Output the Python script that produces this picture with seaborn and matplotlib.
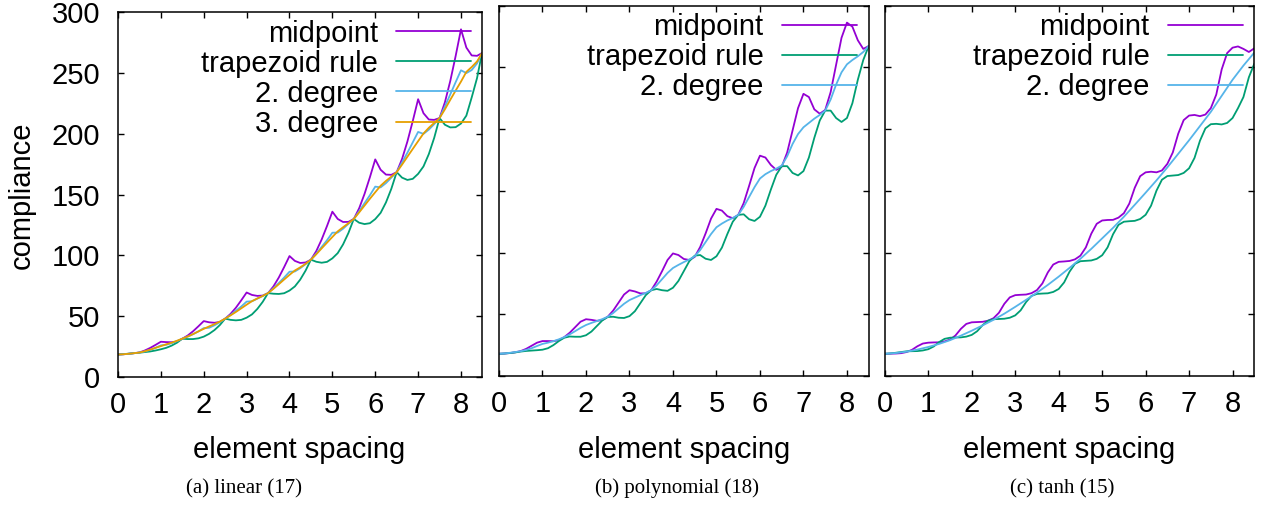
import matplotlib
matplotlib.use("Agg")
import matplotlib.pyplot as plt
import seaborn as sns

# ---------------- data ----------------
# sample positions (element spacing)
xa = [i * 0.125 for i in range(68)] + [8.49]
xb = [i * 0.125 for i in range(69)]
xc = [i * 0.125 for i in range(69)]
xc_coarse = [i * 0.25 for i in range(35)]

# (a) linear (17)
a_midpoint = [18.5, 18.7, 19.1, 19.6, 20.2, 21.8, 23.9, 26.4,
              29, 28.7, 28.6, 29.2, 31.5, 34.1, 37.6, 41.7,
              46, 45.0, 44.6, 45.3, 48, 51.9, 57.0, 63.1,
              69.5, 67.5, 66.7, 67, 69, 74.5, 81.8, 90.4,
              99.5, 95.5, 93.8, 94.2, 96.5, 103.6, 113.1, 124.2,
              136, 130, 127.5, 127.6, 130, 138.8, 150.6, 164.3,
              179, 170.5, 166.5, 166.3, 168.5, 179.3, 193.7, 210.5,
              228.5, 217, 211.8, 211.5, 213, 226, 243.5, 264,
              286, 271, 264.5, 264.2, 266.5]
a_trapezoid = [18.5, 18.8, 19.2, 19.6, 20, 20.5, 21, 21.8,
               22.8, 24, 25.8, 28.2, 31.5, 31.2, 31.2, 31.8,
               33.2, 35.5, 38.6, 42.7, 48, 47.0, 46.6, 47.0,
               48.8, 51.5, 56, 61.8, 69, 68.5, 68.3, 68.9,
               71.1, 74.5, 80.1, 87.5, 96.5, 94.8, 94.0, 94.7,
               97.6, 101.9, 109.1, 118.5, 130, 126.9, 125.8, 126.5,
               129.9, 135.0, 143.6, 154.8, 168.5, 164, 162.1, 163,
               167.1, 173.2, 183.4, 196.7, 213, 207.5, 205.3, 205.5,
               208.5, 215, 230, 246, 266.5]
a_deg2 = [18.5, 18.7, 19.1, 19.6, 20.1, 21, 22.3, 24,
          26, 26.5, 27.8, 29.5, 31.5, 33.2, 35.2, 37.5,
          40.2, 40.5, 42.5, 45, 48, 51, 54.5, 58,
          62, 62.3, 64.5, 66.6, 69, 73, 77.3, 81.8,
          86.6, 86.8, 89.5, 92.8, 96.5, 101.5, 107, 112.5,
          118.7, 118.8, 122, 126, 130, 136.3, 143, 149.5,
          156.6, 156, 159.5, 164, 168.5, 176.5, 184.5, 193,
          201.6, 200, 203.5, 208, 213, 222.5, 232.5, 242.5,
          252.3, 250, 252.5, 258, 266.5]
a_deg3 = [18.5, 18.7, 19.1, 19.6, 20.1, 21.2, 22.5, 24,
          25.4, 26.9, 28.2, 29.8, 31.5, 33.3, 35.3, 37.5,
          39.6, 41.6, 43.5, 45.6, 48, 50.7, 53.5, 56.5,
          59.5, 62.4, 64.6, 66.7, 69, 72.5, 76.3, 80.2,
          84, 87.6, 90.2, 93.1, 96.5, 101, 105.8, 110.5,
          115.2, 119.8, 123.2, 126.5, 130, 135.4, 141, 146.6,
          152, 157.3, 161.3, 164.8, 168.5, 174.7, 181.2, 187.6,
          194, 200.3, 205, 209, 213, 220.2, 228, 235.6,
          243, 251, 255, 259.6, 266.5]

# (b) polynomial (18)
b_midpoint = [18, 18.2, 18.6, 19.2, 20.2, 22, 24.5, 27,
              28.3, 28.3, 28.2, 29, 31.5, 35, 39.5, 44,
              46, 45.5, 44.7, 45.3, 48, 53, 59.5, 66,
              69.5, 68.5, 66.9, 67, 69.5, 76.5, 85, 94,
              99.3, 98, 94.8, 94, 96.5, 104.5, 115.5, 127.5,
              135.4, 134, 129.5, 127.8, 130.5, 140, 154, 168.5,
              178.5, 177, 171, 167, 169.5, 181, 199, 217,
              228.6, 226, 216, 212.5, 215.5, 230, 252, 274,
              286.3, 283, 272, 265, 267.3]
b_trapezoid = [18, 18.2, 18.6, 19.1, 19.8, 20.3, 20.6, 20.9,
               21.3, 22.5, 25, 28.3, 31, 32, 31.8, 31.8,
               33, 36, 40.5, 45, 47.8, 48, 47.2, 47,
               48.5, 52.5, 59, 65.5, 69.5, 70.5, 69.5, 69,
               71.5, 77, 85, 93, 97.5, 98, 95, 94,
               97, 104, 115, 125, 130.5, 131, 127, 125.6,
               129, 138, 151, 163, 170, 170, 164.5, 162.5,
               166, 177, 193, 207, 215, 215, 209, 205.8,
               209, 221, 240, 256, 267.3]
b_deg2 = [18, 18.3, 18.8, 19.4, 20.1, 21.1, 22.5, 24.3,
          26, 27, 28.2, 29.7, 31.5, 33.7, 36.3, 39,
          41.3, 43, 44.5, 46.1, 48, 51, 54.8, 58.5,
          61.5, 63.5, 65.5, 67.3, 69.5, 73.5, 78.5, 83.5,
          87.5, 90, 92.3, 94.4, 97, 102, 108.5, 115,
          120.5, 123.5, 126, 128, 130.5, 137, 145, 153,
          160, 163.5, 166, 168, 170.5, 178, 188, 196,
          201.5, 205, 208.5, 211.5, 215, 224, 236, 246,
          252.5, 256, 259, 262.5, 267.3]

# (c) tanh (15)
c_midpoint = [18, 18.1, 18.2, 18.5, 19.4, 21.2, 24.1, 26.3,
              27, 27.2, 27.3, 28, 29.5, 32.8, 38.2, 42.2,
              43.5, 43.7, 43.9, 44.8, 46.8, 51.2, 58.5, 63.7,
              65.5, 65.8, 66, 67.1, 69.6, 75, 83.9, 90.3,
              92.5, 92.8, 93.2, 94.5, 97.5, 104.2, 115.3, 123.3,
              126, 126.4, 126.5, 128.3, 131.9, 139.7, 152.5, 161.9,
              165, 165.5, 165, 166.5, 171.9, 181.1, 196.3, 207.3,
              211, 211.5, 210.5, 211.8, 217, 228, 248.4, 261.6,
              266, 267, 265, 262.5, 265.5]
c_trapezoid = [18, 18.3, 18.8, 19.4, 20, 20.1, 20.2, 20.7,
               21.7, 23.9, 27.5, 30.1, 31, 31.2, 31.3, 31.9,
               33.3, 36.3, 41.2, 44.8, 46, 46.2, 46.4, 47.2,
               49.1, 53.2, 59.9, 64.9, 66.5, 66.8, 67, 68.1,
               70.5, 75.8, 84.5, 90.9, 93, 93.3, 93.6, 94.9,
               97.8, 104.2, 114.8, 122.4, 125, 125.4, 125.7, 127.2,
               130.6, 138, 150.2, 159, 162, 162.4, 162.8, 164.5,
               168.3, 176.7, 190.6, 200.6, 204, 204.3, 203.8, 205,
               209, 217, 226, 242, 253]
c_deg2 = [18, 18.6, 19.7, 21.4, 23.5, 26, 29, 32.7,
          36.7, 41, 45.5, 50.5, 56, 61.7, 67.5, 73.8,
          80.5, 87.6, 95, 103, 111.5, 120, 129, 138.7,
          148.5, 158.5, 169, 180, 191, 202.5, 214, 227,
          240, 251.5, 262]

labels = ["midpoint", "trapezoid rule", "2. degree", "3. degree"]
x_ticks = list(range(9))
y_ticks = list(range(0, 301, 50))
captions = ["(a) linear (17)", "(b) polynomial (18)", "(c) tanh (15)"]

# ---------------- styling ----------------
sns.set_style("ticks")
plt.rcParams['font.family'] = ['Liberation Sans', 'DejaVu Sans']
plt.rcParams['text.color'] = 'black'
plt.rcParams['axes.labelcolor'] = 'black'
plt.rcParams['xtick.color'] = 'black'
plt.rcParams['ytick.color'] = 'black'

colors = ["#9400D3", "#009E73", "#56B4E9", "#E69F00"]
FS = 21

W, H = 1266, 505
fig = plt.figure(figsize=(W / 100, H / 100), dpi=100)


def add_axes(l, r, t, b):
    return fig.add_axes([l / W, (H - b) / H, (r - l) / W, (b - t) / H])


panels = [
    dict(box=(118, 482, 12.3, 377), xmax=8.49,
         series=[(xa, a_midpoint), (xa, a_trapezoid), (xa, a_deg2), (xa, a_deg3)],
         leg=(0.9698, 0.980), ylab=True, xlab_x=299, cap_x=244),
    dict(box=(499, 868.7, 5.7, 376), xmax=8.5,
         series=[(xb, b_midpoint), (xb, b_trapezoid), (xb, b_deg2)],
         leg=(0.9675, 0.981), ylab=False, xlab_x=684, cap_x=677),
    dict(box=(884.8, 1254.3, 5.7, 376), xmax=8.5,
         series=[(xc, c_midpoint), (xc, c_trapezoid), (xc_coarse, c_deg2)],
         leg=(0.9686, 0.981), ylab=False, xlab_x=1069, cap_x=1062),
]

for k, p in enumerate(panels):
    ax = add_axes(*p["box"])
    for i, (xs, ys) in enumerate(p["series"]):
        sns.lineplot(x=xs, y=ys, ax=ax, color=colors[i], lw=1.3,
                     label=labels[i], estimator=None, sort=False)
    ax.set_xlim(0, p["xmax"])
    ax.set_ylim(0, 300)
    ax.set_xticks(x_ticks)
    ax.set_yticks(y_ticks)
    ax.set_xlabel("")
    ax.set_ylabel("")
    ax.tick_params(direction="in", length=4.5, width=1.0, top=True, right=True,
                   labelsize=FS, pad=10, colors="black")
    ax.tick_params(axis="y", pad=13)
    if not p["ylab"]:
        ax.tick_params(axis="y", labelleft=False)
    for s in ax.spines.values():
        s.set_visible(True)
        s.set_linewidth(1.1)
        s.set_color("black")
    leg = ax.legend(loc="upper right", bbox_to_anchor=p["leg"], frameon=False,
                    fontsize=FS, markerfirst=False, handlelength=2.57,
                    handletextpad=0.62, labelspacing=0.07, borderpad=0,
                    borderaxespad=0)
    for t in leg.get_texts():
        t.set_color("black")
    fig.text(p["xlab_x"] / W, (H - 450) / H, "element spacing", fontsize=FS,
             ha="center", va="center", color="black")
    fig.text(p["cap_x"] / W, (H - 488.5) / H, captions[k],
             fontsize=15, ha="center", va="center", color="black",
             family=["Liberation Serif", "DejaVu Serif"])

fig.text(22 / W, (H - 195) / H, "compliance", fontsize=FS, rotation=90,
         ha="center", va="center", color="black")

fig.savefig("out.png", dpi=100)
